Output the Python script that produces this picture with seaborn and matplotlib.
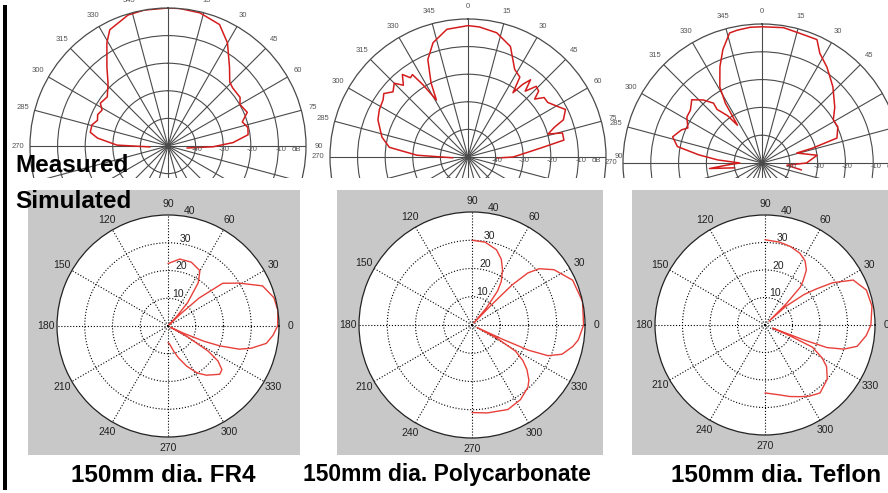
"""
Measured vs simulated radiation patterns for three 150mm dia. lens materials.
Top row: measured (dB, half-plane), bottom row: simulated (linear, MATLAB style).
"""

import numpy as np
import matplotlib
matplotlib.use("Agg")
import matplotlib.pyplot as plt
from matplotlib.patches import Rectangle
import seaborn as sns

W, H = 888, 493

# ─── Measured patterns (angle in deg, 0 = up, clockwise; level in dB) ────────

fr4_meas_ang = [-93, -89, -83.6, -80, -74.5, -70, -66, -61.4, -57.7, -51, -43.6,
                -37.7, -30.6, -26.6, -17, -10, 0, 5, 13.5, 23, 30, 38, 44, 48,
                56, 60, 67, 72, 77, 82, 87, 91, 96]
fr4_meas_db = [-43.5, -31.5, -24.3, -21.4, -21.4, -22.8, -22.1, -22.8, -21.0, -21.7,
               -18.5, -13.8, -6.5, -2.9, -0.4, 0.0, 0.0, 0.0, -0.4, -2.2, -6.9,
               -13.8, -17.8, -18.5, -18.5, -19.9, -18.8, -21.7, -20.3, -20.7,
               -26.4, -33.7, -43.1]

poly_meas_ang = [-93, -88, -83, -77, -67.6, -62, -56, -53, -49, -45, -42, -38.5,
                 -36, -34, -32, -29, -26.5, -22.4, -17, -9.4, 0, 5, 13, 21, 28,
                 33, 35, 37, 39, 41, 44, 47, 49, 52, 55.6, 61, 64, 68.7, 71, 74,
                 75.7, 80, 83, 90, 92]
poly_meas_db = [-44.5, -31.5, -21.3, -18.0, -14.7, -13.6, -12.9, -11.8, -14.0, -12.2,
                -15.0, -11.8, -14.5, -14.0, -19.0, -26.4, -20.0, -11.8, -6.7, -3.1,
                -2.4, -2.7, -3.8, -7.1, -14.0, -15.5, -21.6, -17.0, -14.0, -18.4,
                -14.4, -15.0, -18.0, -15.0, -15.0, -12.5, -10.7, -12.9, -16.9,
                -19.8, -14.7, -14.7, -23.5, -33.6, -39.5]

tef_meas_ang = [-100, -96, -93, -90, -86, -82.6, -79, -73.7, -67.6, -64.7, -58.5,
                -53.6, -48, -43, -39, -40, -36, -33, -31.5, -29, -23.6, -19, -14,
                -10.6, -5, 0, 9, 16, 24, 27.8, 34, 38, 43, 52.5, 58.8, 64.6, 71.6,
                73.6, 74, 82, 90, 95, 100]
tef_meas_db = [-40.0, -31.0, -38.0, -42.0, -34.0, -27.0, -19.0, -16.5, -18.7, -20.5,
               -18.3, -18.0, -16.0, -19.0, -22.3, -24.8, -29.0, -33.8, -24.8, -18.7,
               -12.2, -6.8, -1.8, -1.4, -1.0, -1.0, -0.7, -1.4, -1.4, -5.4, -8.3,
               -10.4, -12.6, -17.0, -20.0, -19.8, -21.6, -31.0, -37.0, -30.0,
               -34.0, -41.0, -35.6]

# ─── Simulated patterns (angle in deg, 0 = right, counter-clockwise) ─────────

fr4_sim_ang = [90, 80, 70, 60, 55, 50, 48, 46, 44, 42, 38, 31, 23, 15, 8, 0, -5,
               -10, -15, -18, -21, -23, -25, -27, -29, -32, -35, -39, -43, -47,
               -52, -58, -65, -72, -78, -85, -90]
fr4_sim_r = [22.5, 24.5, 24.5, 23.0, 19.0, 11.0, 5.0, 0.5, 6.0, 15.0, 25.0, 30.0,
             37.0, 39.5, 40.0, 39.5, 38.0, 36.0, 31.0, 27.0, 20.0, 14.0, 6.0, 1.0,
             8.0, 17.0, 22.0, 25.0, 25.5, 24.0, 22.5, 20.0, 16.0, 12.0, 9.0, 6.5,
             6.0]

poly_sim_ang = [90, 81, 72, 66, 61, 56, 53, 50, 48, 46, 45, 43, 40, 34, 24, 12, 0,
                -8, -12, -18, -22, -24, -25, -26, -28, -31, -35, -39, -44, -48,
                -57, -67, -80, -90]
poly_sim_r = [30.0, 29.7, 28.0, 25.5, 22.3, 18.5, 15.0, 8.0, 1.0, 10.0, 20.0, 27.0,
              31.0, 35.0, 39.0, 40.0, 39.5, 38.0, 36.5, 33.5, 29.0, 22.0, 12.0, 2.0,
              10.0, 18.0, 22.0, 25.0, 28.0, 29.6, 31.5, 32.5, 31.6, 31.0]

tef_sim_ang = [90, 80, 72, 64, 58, 53, 49, 47, 45, 44, 42, 38, 35, 32, 27, 19, 10,
               0, -6, -13, -17, -20, -21, -22, -23.5, -25, -30, -34, -41, -51, -58,
               -64, -71, -78, -90]
tef_sim_r = [31.0, 30.6, 30.0, 29.0, 27.5, 25.0, 21.0, 18.8, 11.0, 2.0, 10.0, 18.0,
             23.0, 29.0, 36.0, 39.0, 39.5, 38.5, 37.0, 34.4, 30.0, 24.0, 15.0, 3.0,
             10.0, 19.0, 24.0, 27.0, 30.0, 31.8, 30.5, 29.0, 27.5, 26.0, 24.7]

captions = ["150mm dia. FR4", "150mm dia. Polycarbonate", "150mm dia. Teflon"]

MEAS_RED = "#d41c1c"
SIM_RED = "#e8403a"
PANEL_GREY = "#c8c8c8"


def px_box(cx, cy, r):
    """Square axes box (figure fraction) centred on pixel (cx, cy) with radius r."""
    return [(cx - r) / W, (H - cy - r) / H, 2 * r / W, 2 * r / H]


def measured_panel(fig, cx, cy, r, ang, db):
    ax = fig.add_axes(px_box(cx, cy, r), projection="polar", zorder=0)
    ax.set_theta_zero_location("N")
    ax.set_theta_direction(-1)
    ax.set_ylim(-50, 0)
    ax.set_xticks(np.radians(np.arange(0, 360, 15)))
    ax.set_xticklabels([])
    ax.set_yticks([-40, -30, -20, -10])
    ax.set_yticklabels([])
    ax.grid(True, color="#4a4a4a", lw=0.8, ls="-")
    ax.spines["polar"].set_color("#4a4a4a")
    ax.spines["polar"].set_linewidth(0.9)
    ax.set_facecolor("white")

    for a in range(0, 360, 15):
        ax.text(np.radians(a), 4.5, str(a), ha="center", va="center",
                fontsize=5.5, color="#555555")
    for v, lab in zip([-39.5, -29.5, -19.5, -9.0, -3.5], ["-40", "-30", "-20", "-10", "dB"]):
        ax.text(np.radians(90), v, lab, ha="center", va="top",
                fontsize=5.5, color="#555555")

    sns.lineplot(x=np.radians(ang), y=np.clip(db, -50, 0), sort=False,
                 estimator=None, ax=ax, color=MEAS_RED, lw=1.1)
    ax.set_xlabel("")
    ax.set_ylabel("")
    return ax


def simulated_panel(fig, box, cx, cy, r, ang, rr):
    x0, y0, x1, y1 = box
    bg = fig.add_axes([x0 / W, (H - y1) / H, (x1 - x0) / W, (y1 - y0) / H], zorder=2)
    bg.set_facecolor(PANEL_GREY)
    bg.set_xticks([])
    bg.set_yticks([])
    for s in bg.spines.values():
        s.set_visible(False)

    ax = fig.add_axes(px_box(cx, cy, r), projection="polar", zorder=3)
    ax.set_facecolor("white")
    ax.set_ylim(0, 40)
    ax.set_xticks(np.radians(np.arange(0, 360, 30)))
    ax.set_xticklabels([])
    ax.set_yticks([10, 20, 30])
    ax.set_yticklabels([])
    ax.grid(True, color="black", lw=0.8, ls=":")
    ax.spines["polar"].set_color("#222222")
    ax.spines["polar"].set_linewidth(0.9)

    for a in range(0, 360, 30):
        ax.text(np.radians(a), 44, str(a), ha="center", va="center",
                fontsize=7.5, color="#222222")
    for v in [10, 20, 30, 40]:
        ax.text(np.radians(82), v, str(v), ha="left", va="bottom",
                fontsize=7.5, color="#222222")

    sns.lineplot(x=np.radians(ang), y=rr, sort=False, estimator=None,
                 ax=ax, color=SIM_RED, lw=1.0)
    ax.set_xlabel("")
    ax.set_ylabel("")
    return ax


sns.set_theme(style="white")
plt.rcParams["font.family"] = ["Liberation Sans", "DejaVu Sans"]

fig = plt.figure(figsize=(W / 100, H / 100), dpi=100)
fig.patch.set_facecolor("white")

# top row – measured
measured_panel(fig, 168, 146, 138, fr4_meas_ang, fr4_meas_db)
measured_panel(fig, 468, 157, 138, poly_meas_ang, poly_meas_db)
measured_panel(fig, 762, 163, 139, tef_meas_ang, tef_meas_db)

# white band hides the lower half of the measured scans
fig.patches.append(Rectangle((0, 0), 1, (H - 178) / H, transform=fig.transFigure,
                             facecolor="white", edgecolor="none", zorder=1))

# bottom row – simulated
simulated_panel(fig, (28, 190, 300, 455), 168, 326, 111, fr4_sim_ang, fr4_sim_r)
simulated_panel(fig, (337, 190, 603, 455), 472, 325, 113, poly_sim_ang, poly_sim_r)
simulated_panel(fig, (632, 190, 900, 455), 765, 325, 110, tef_sim_ang, tef_sim_r)

# left black bar
fig.patches.append(Rectangle((3 / W, (H - 490) / H), 4 / W, 485 / H,
                             transform=fig.transFigure, facecolor="black",
                             edgecolor="none", zorder=5))

fig.text(15 / W, 1 - 166 / H, "Measured", ha="left", va="center",
         fontsize=17.5, fontweight="bold", color="black", zorder=6)
fig.text(15 / W, 1 - 202 / H, "Simulated", ha="left", va="center",
         fontsize=17.5, fontweight="bold", color="black", zorder=6)

for xc, cap, fs in zip([163, 447, 776], captions, [17.5, 16.5, 17.5]):
    fig.text(xc / W, 1 - 475 / H, cap, ha="center", va="center",
             fontsize=fs, fontweight="bold", color="black", zorder=6)

plt.savefig("out.png", dpi=100)
plt.close()
